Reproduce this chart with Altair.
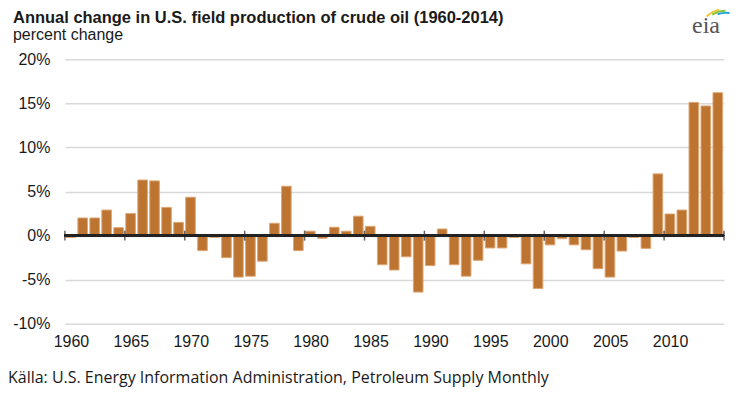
import altair as alt
import pandas as pd
import math

TITLE = "Annual change in U.S. field production of crude oil (1960-2014)"
SUBTITLE = "percent change"
SOURCE = "Källa: U.S. Energy Information Administration, Petroleum Supply Monthly"

years = list(range(1960, 2015))
values = [
    -0.2, 2.0, 2.0, 2.9, 0.9, 2.5, 6.3, 6.2, 3.2, 1.5,
    4.35, -1.7, -0.2, -2.5, -4.7, -4.6, -2.9, 1.4, 5.6, -1.7,
    0.5, -0.3, 0.95, 0.5, 2.2, 1.05, -3.3, -3.9, -2.4, -6.4,
    -3.4, 0.75, -3.3, -4.6, -2.8, -1.4, -1.4, -0.2, -3.2, -6.0,
    -1.05, -0.35, -1.05, -1.6, -3.75, -4.7, -1.75, -0.2, -1.45, 7.0,
    2.45, 2.9, 15.1, 14.7, 16.2,
]
y_ticks = [-10, -5, 0, 5, 10, 15, 20]
x_label_years = [1960, 1965, 1970, 1975, 1980, 1985, 1990, 1995, 2000, 2005, 2010]
x_tick_years = x_label_years + [2015]

df = pd.DataFrame({"year": years, "value": values})

FONT = "Liberation Sans"
xscale = alt.Scale(domain=[1960, 2015], nice=False, zero=False)
yscale = alt.Scale(domain=[-10, 20], nice=False)

bars = alt.Chart(df).transform_calculate(
    x0="datum.year + 0.08", x1="datum.year + 0.88"
).mark_bar(color="#BC7430", stroke="#DDA572", strokeWidth=1).encode(
    x=alt.X("x0:Q", scale=xscale, title=None,
            axis=alt.Axis(values=[y + 0.5 for y in x_label_years],
                          labelExpr="toString(floor(datum.value))",
                          ticks=False, domain=False, grid=False,
                          labelFontSize=16, labelFont=FONT, labelColor="#1a1a1a",
                          labelPadding=10)),
    x2="x1:Q",
    y=alt.Y("value:Q", scale=yscale, title=None,
            axis=alt.Axis(values=y_ticks, labelExpr="datum.value + '%'",
                          ticks=False, domain=False, grid=True,
                          gridColor="#d9d9d9", gridWidth=1.5,
                          labelFontSize=16, labelFont=FONT, labelColor="#1a1a1a",
                          labelPadding=15)),
    y2=alt.datum(0),
)

zero = alt.Chart(df).mark_rule(color="#222222", strokeWidth=2).encode(y=alt.datum(0))

ticks = alt.Chart(pd.DataFrame({"t": x_tick_years})).mark_tick(
    color="#222222", orient="vertical", size=10, thickness=1.5
).encode(x=alt.X("t:Q", scale=xscale), y=alt.datum(0))

def text_layer(txt, **kw):
    return alt.Chart(alt.Data(values=[{"t": txt}])).mark_text(
        align="left", baseline="alphabetic", **kw
    ).encode(text="t:N")

title = text_layer(TITLE, font=FONT, fontSize=16.5, fontWeight="bold", color="#1a1a1a",
                   x=-52, y=-36)
subtitle = text_layer(SUBTITLE, font=FONT, fontSize=16, color="#1a1a1a", x=-52, y=-19)
source = text_layer(SOURCE, font="Open Sans", fontSize=16, color="#1a1a1a", x=-57, y=324)
logo = text_layer("eia", font="Liberation Serif", fontSize=24, color="#555555", x=628, y=-26)

def swoosh(color, r0, r1, t0, t1):
    return alt.Chart(alt.Data(values=[{"c": color}])).mark_arc(
        color=color, radius=r0, radius2=r1, theta=t0, theta2=t1
    ).encode(x=alt.value(662), y=alt.value(-22))

arcs = [
    swoosh("#F2C230", 27.5, 29.5, 2 * math.pi - 0.75, 2 * math.pi - 0.25),
    swoosh("#8CC63F", 25.5, 27.5, 2 * math.pi - 0.55, 2 * math.pi - 0.02),
    swoosh("#2AA4DC", 23.5, 25.5, 2 * math.pi - 0.35, 2 * math.pi + 0.15),
]

chart = alt.layer(bars, zero, ticks, title, subtitle, source, logo, *arcs).properties(
    width=660, height=265,
    autosize=alt.AutoSizeParams(type="none"),
    padding={"left": 57, "top": 51, "right": 10, "bottom": 70},
).configure_view(stroke=None)

chart.save("out.html", embed_options={"renderer": "svg", "actions": False})
